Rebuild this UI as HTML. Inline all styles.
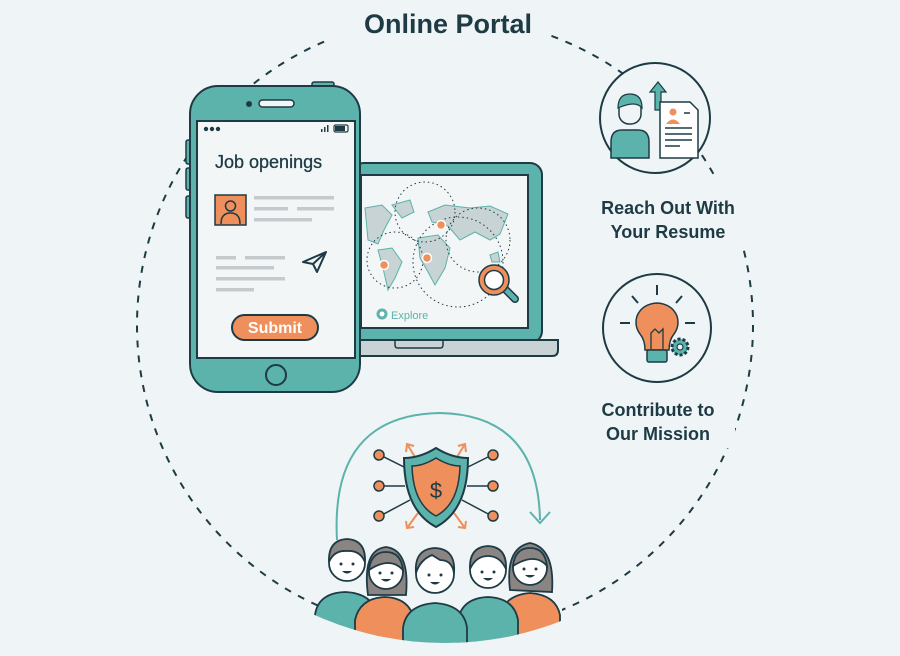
<!DOCTYPE html>
<html><head><meta charset="utf-8"><style>
html,body{margin:0;padding:0;background:#eff4f6;}
svg{display:block;}
text{font-family:"Liberation Sans","DejaVu Sans",sans-serif;}
</style></head><body>
<svg width="900" height="656" viewBox="0 0 900 656" xmlns="http://www.w3.org/2000/svg">
<defs>
<clipPath id="cc"><circle cx="445" cy="325" r="318"/></clipPath>
</defs>
<rect width="900" height="656" fill="#eff4f6"/>
<!-- dashed circle -->
<circle cx="445" cy="325" r="308" fill="none" stroke="#1e3b45" stroke-width="2" stroke-dasharray="7 8"/>
<!-- masks -->
<rect x="325" y="0" width="225" height="48" fill="#eff4f6"/>
<rect x="585" y="180" width="168" height="66" fill="#eff4f6"/>
<rect x="585" y="392" width="150" height="56" fill="#eff4f6"/>
<rect x="318" y="560" width="244" height="96" fill="#eff4f6"/>

<text x="448" y="33" text-anchor="middle" font-size="27" font-weight="bold" fill="#1e3b45">Online Portal</text>

<!-- laptop -->
<rect x="352" y="163" width="190" height="180" rx="12" fill="#5bb3ab" stroke="#1e3b45" stroke-width="2"/>
<rect x="361" y="175" width="167" height="153" fill="#f2f6f7" stroke="#1e3b45" stroke-width="2"/>
<path d="M350 340 H558 V350 Q558 356 552 356 H356 Q350 356 350 350 Z" fill="#c9d3d6" stroke="#1e3b45" stroke-width="2"/>
<path d="M395 340 V345 Q395 348 398 348 H440 Q443 348 443 345 V340" fill="none" stroke="#1e3b45" stroke-width="1.5"/>
<!-- map -->
<g fill="#c8d3d5" stroke="#5bb3ab" stroke-width="1">
<path d="M365 208 L382 205 L392 215 L384 230 L378 244 L368 240 Z"/>
<path d="M392 205 L410 200 L414 212 L402 218 Z"/>
<path d="M378 250 L392 248 L402 262 L395 278 L388 290 L383 268 Z"/>
<path d="M428 212 L445 205 L470 208 L490 206 L508 214 L500 234 L490 240 L475 232 L460 240 L448 226 L432 222 Z"/>
<path d="M418 238 L438 235 L450 248 L445 268 L435 285 L428 272 L420 258 Z"/>
<path d="M490 255 L498 252 L500 262 L492 262 Z"/>
</g>
<g fill="none" stroke="#1e3b45" stroke-width="1" stroke-dasharray="1.5 3">
<circle cx="425" cy="212" r="30"/>
<circle cx="395" cy="260" r="28"/>
<circle cx="458" cy="262" r="45"/>
<circle cx="478" cy="240" r="32"/>
</g>
<g fill="#ee8f5c" stroke="#fff" stroke-width="1.5">
<circle cx="441" cy="225" r="4.5"/><circle cx="427" cy="258" r="4.5"/><circle cx="384" cy="265" r="4.5"/>
</g>
<line x1="503" y1="287" x2="515" y2="299" stroke="#1e3b45" stroke-width="8" stroke-linecap="round"/>
<line x1="503" y1="287" x2="515" y2="299" stroke="#5bb3ab" stroke-width="5" stroke-linecap="round"/>
<circle cx="494" cy="280" r="12" fill="#fff" stroke="#ee8f5c" stroke-width="5"/>
<circle cx="494" cy="280" r="15" fill="none" stroke="#1e3b45" stroke-width="1.5"/>
<circle cx="494" cy="280" r="9.5" fill="none" stroke="#1e3b45" stroke-width="1.5"/>
<circle cx="382" cy="314" r="4" fill="#fff" stroke="#5bb3ab" stroke-width="3"/>
<text x="391" y="319" font-size="11" fill="#5bb3ab">Explore</text>

<!-- phone -->
<rect x="312" y="82" width="22" height="8" rx="2" fill="#5bb3ab" stroke="#1e3b45" stroke-width="1.5"/>
<rect x="186" y="140" width="8" height="24" rx="2" fill="#5bb3ab" stroke="#1e3b45" stroke-width="1.5"/>
<rect x="186" y="168" width="8" height="22" rx="2" fill="#5bb3ab" stroke="#1e3b45" stroke-width="1.5"/>
<rect x="186" y="196" width="8" height="22" rx="2" fill="#5bb3ab" stroke="#1e3b45" stroke-width="1.5"/>
<rect x="190" y="86" width="170" height="306" rx="28" fill="#5bb3ab" stroke="#1e3b45" stroke-width="2"/>
<rect x="197" y="121" width="158" height="237" fill="#f2f6f7" stroke="#1e3b45" stroke-width="2"/>
<circle cx="249" cy="104" r="3" fill="#1e3b45"/>
<rect x="259" y="100" width="35" height="7" rx="3.5" fill="#f2f6f7" stroke="#1e3b45" stroke-width="1.5"/>
<circle cx="276" cy="375" r="10" fill="#5bb3ab" stroke="#1e3b45" stroke-width="2"/>
<g fill="#1e3b45"><circle cx="206" cy="129" r="2.2"/><circle cx="212" cy="129" r="2.2"/><circle cx="218" cy="129" r="2.2"/>
<rect x="321" y="129" width="1.5" height="3"/><rect x="324" y="127" width="1.5" height="5"/><rect x="327" y="125" width="1.5" height="7"/>
<rect x="334" y="125" width="14" height="7" rx="1.5" fill="none" stroke="#1e3b45" stroke-width="1.2"/><rect x="335" y="126" width="10" height="5"/></g>
<text x="215" y="168" font-size="18" fill="#1e3b45" stroke="#1e3b45" stroke-width="0.3">Job openings</text>
<rect x="215" y="195" width="31" height="30" fill="#ee8f5c" stroke="#1e3b45" stroke-width="1.5"/>
<circle cx="230.5" cy="206" r="5" fill="none" stroke="#1e3b45" stroke-width="1.5"/>
<path d="M221 224 Q221 213 230.5 213 Q240 213 240 224" fill="none" stroke="#1e3b45" stroke-width="1.5"/>
<g fill="#c5cacd">
<rect x="254" y="196" width="80" height="3.5"/><rect x="254" y="207" width="34" height="3.5"/><rect x="297" y="207" width="37" height="3.5"/><rect x="254" y="218" width="58" height="3.5"/>
<rect x="216" y="256" width="20" height="3.5"/><rect x="245" y="256" width="40" height="3.5"/><rect x="216" y="266" width="58" height="3.5"/><rect x="216" y="277" width="69" height="3.5"/><rect x="216" y="288" width="38" height="3.5"/>
</g>
<path d="M303 262 L326 252 L317 272 L313 264 Z M313 264 L326 252" fill="none" stroke="#1e3b45" stroke-width="2" stroke-linejoin="round"/>
<rect x="232" y="315" width="86" height="25" rx="12.5" fill="#ee8f5c" stroke="#1e3b45" stroke-width="2"/>
<text x="275" y="333" text-anchor="middle" font-size="16" font-weight="bold" fill="#fff">Submit</text>

<!-- resume icon -->
<circle cx="655" cy="118" r="55" fill="#eff4f6" stroke="#1e3b45" stroke-width="2"/>
<path d="M611 158 V142 Q611 130 622 130 H638 Q649 130 649 142 V158 Z" fill="#5bb3ab" stroke="#1e3b45" stroke-width="1.5"/>
<rect x="619" y="96" width="22" height="28" rx="10" fill="#eff4f6" stroke="#1e3b45" stroke-width="1.5"/>
<path d="M618 108 Q618 94 630 94 Q642 94 642 108 Q636 100 618 108Z" fill="#5bb3ab" stroke="#1e3b45" stroke-width="1.2"/>
<path d="M650 92 L658 82 L666 92 H661 V110 H655 V92 Z" fill="#5bb3ab" stroke="#1e3b45" stroke-width="1.2"/>
<path d="M660 102 H690 L698 110 V158 H660 Z" fill="#fff" stroke="#1e3b45" stroke-width="1.5"/>
<circle cx="673" cy="112" r="3.5" fill="#ee8f5c"/><path d="M666 124 Q673 115 680 124Z" fill="#ee8f5c"/>
<g stroke="#1e3b45" stroke-width="1.5"><line x1="684" y1="113" x2="690" y2="113"/><line x1="665" y1="128" x2="692" y2="128"/><line x1="665" y1="134" x2="692" y2="134"/><line x1="665" y1="140" x2="692" y2="140"/><line x1="665" y1="146" x2="680" y2="146"/></g>
<text x="668" y="214" text-anchor="middle" font-size="18" font-weight="bold" fill="#1e3b45">Reach Out With</text>
<text x="668" y="238" text-anchor="middle" font-size="18" font-weight="bold" fill="#1e3b45">Your Resume</text>

<!-- bulb icon -->
<circle cx="657" cy="328" r="54" fill="#eff4f6" stroke="#1e3b45" stroke-width="2"/>
<g stroke="#1e3b45" stroke-width="2"><line x1="657" y1="285" x2="657" y2="295"/><line x1="632" y1="296" x2="638" y2="303"/><line x1="682" y1="296" x2="676" y2="303"/><line x1="620" y1="323" x2="630" y2="323"/><line x1="685" y1="323" x2="695" y2="323"/></g>
<path d="M645 350 Q645 340 640 334 Q634 326 637 316 Q642 304 657 303 Q672 304 677 316 Q680 326 674 334 Q669 340 669 350 Z" fill="#ee8f5c" stroke="#1e3b45" stroke-width="1.5"/>
<path d="M651 349 V333 L655 329 L659 333 L663 329 V349" fill="none" stroke="#1e3b45" stroke-width="1.3"/>
<rect x="647" y="350" width="20" height="12" rx="2" fill="#5bb3ab" stroke="#1e3b45" stroke-width="1.5"/>
<circle cx="680" cy="347" r="8" fill="#5bb3ab" stroke="#1e3b45" stroke-width="3" stroke-dasharray="3 2"/>
<circle cx="680" cy="347" r="3" fill="#eff4f6" stroke="#1e3b45" stroke-width="1.2"/>
<text x="658" y="416" text-anchor="middle" font-size="18" font-weight="bold" fill="#1e3b45">Contribute to</text>
<text x="658" y="440" text-anchor="middle" font-size="18" font-weight="bold" fill="#1e3b45">Our Mission</text>

<!-- arc arrow -->
<path d="M337 540 Q330 415 440 413 Q538 415 540 520" fill="none" stroke="#5bb3ab" stroke-width="2"/>
<path d="M530 512 L540 523 L550 512" fill="none" stroke="#5bb3ab" stroke-width="2"/>
<!-- shield network -->
<g stroke="#1e3b45" stroke-width="1.5">
<line x1="380" y1="455" x2="410" y2="470"/><line x1="380" y1="486" x2="405" y2="486"/><line x1="380" y1="516" x2="410" y2="500"/>
<line x1="492" y1="455" x2="462" y2="470"/><line x1="492" y1="486" x2="467" y2="486"/><line x1="492" y1="516" x2="462" y2="500"/>
</g>
<g fill="#ee8f5c" stroke="#1e3b45" stroke-width="1.5">
<circle cx="379" cy="455" r="5"/><circle cx="379" cy="486" r="5"/><circle cx="379" cy="516" r="5"/>
<circle cx="493" cy="455" r="5"/><circle cx="493" cy="486" r="5"/><circle cx="493" cy="516" r="5"/>
</g>
<g stroke="#ee8f5c" stroke-width="2" fill="none">
<path d="M418 462 L407 444 M406 452 L407 444 L414 446"/><path d="M454 462 L465 444 M466 452 L465 444 L458 446"/>
<path d="M418 513 L407 528 M406 521 L407 528 L414 527"/><path d="M454 513 L465 528 M466 521 L465 528 L458 527"/>
</g>
<path d="M436 448 Q452 458 468 458 Q468 510 436 527 Q404 510 404 458 Q420 458 436 448Z" fill="#5bb3ab" stroke="#1e3b45" stroke-width="2"/>
<path d="M436 458 Q449 466 460 466 Q459 504 436 516 Q413 504 412 466 Q423 466 436 458Z" fill="#ee8f5c" stroke="#1e3b45" stroke-width="1.5"/>
<text x="436" y="498" text-anchor="middle" font-size="22" fill="#1e3b45">$</text>

<!-- people -->
<g clip-path="url(#cc)" stroke="#1e3b45" stroke-width="1.8">
<path d="M315 656 V615 Q318 593 345 592 Q372 593 378 615 V656Z" fill="#5bb3ab"/>
<circle cx="347" cy="563" r="18" fill="#fff"/><path d="M329 562 Q328 540 347 539 Q366 540 365 562 Q360 550 347 551 Q334 550 329 562Z" fill="#8a8482"/>
<path d="M500 656 V615 Q505 595 530 593 Q556 595 560 615 V656Z" fill="#ee8f5c"/>
<path d="M510 590 Q505 548 530 543 Q555 548 552 592 Z" fill="#8a8482"/>
<circle cx="530" cy="568" r="17" fill="#fff"/><path d="M513 566 Q515 548 530 548 Q545 548 547 566 Q535 552 513 566Z" fill="#8a8482"/>
<path d="M355 656 V620 Q360 598 385 597 Q410 598 414 620 V656Z" fill="#ee8f5c"/>
<path d="M368 595 Q362 550 386 547 Q410 550 406 595Z" fill="#8a8482"/>
<circle cx="386" cy="572" r="17" fill="#fff"/><path d="M369 570 Q371 552 386 552 Q401 552 403 570 Q390 556 369 570Z" fill="#8a8482"/>
<path d="M458 656 V620 Q462 598 488 597 Q514 598 518 620 V656Z" fill="#5bb3ab"/>
<circle cx="488" cy="570" r="18" fill="#fff"/><path d="M470 569 Q469 547 488 546 Q507 547 506 569 Q500 556 488 556 Q476 556 470 569Z" fill="#8a8482"/>
<path d="M403 656 V628 Q406 605 435 603 Q464 605 467 628 V656Z" fill="#5bb3ab"/>
<circle cx="435" cy="574" r="19" fill="#fff"/><path d="M416 573 Q414 549 435 548 Q456 549 454 573 Q452 560 440 560 L432 555 Q420 560 416 573Z" fill="#8a8482"/>
</g>
<g fill="#1e3b45">
<circle cx="341" cy="564" r="1.5"/><circle cx="353" cy="564" r="1.5"/><path d="M342 571 Q347 576 352 571Z"/>
<circle cx="380" cy="573" r="1.5"/><circle cx="392" cy="573" r="1.5"/><path d="M381 579 Q386 584 391 579Z"/>
<circle cx="429" cy="575" r="1.5"/><circle cx="441" cy="575" r="1.5"/><path d="M430 582 Q435 587 440 582Z"/>
<circle cx="482" cy="572" r="1.5"/><circle cx="494" cy="572" r="1.5"/><path d="M483 578 Q488 583 493 578Z"/>
<circle cx="524" cy="569" r="1.5"/><circle cx="536" cy="569" r="1.5"/><path d="M525 575 Q530 580 535 575Z"/>
</g>
</svg>
</body></html>
